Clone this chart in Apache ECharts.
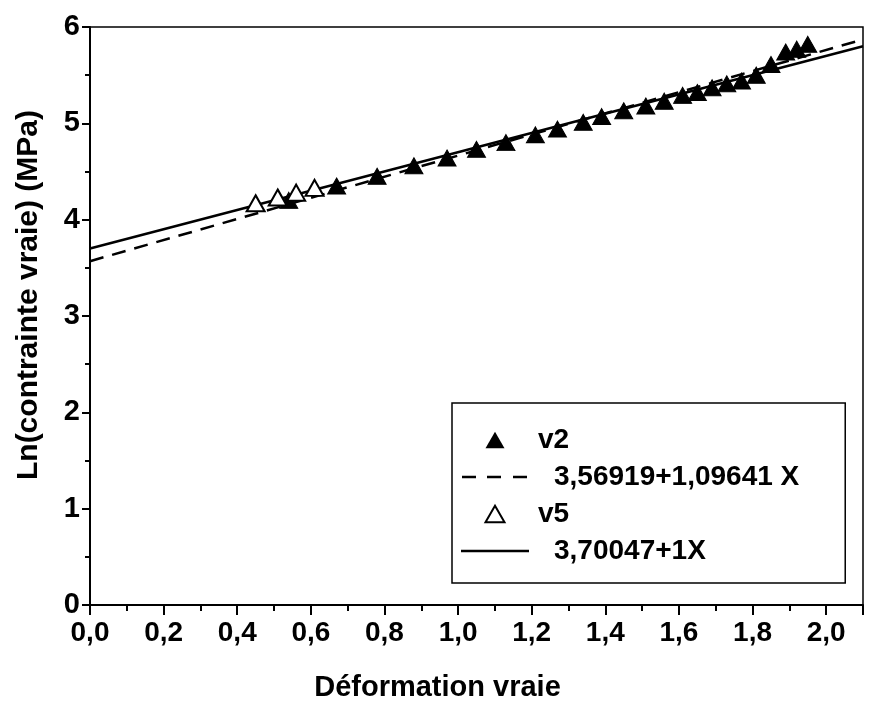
<!DOCTYPE html>
<html>
<head>
<meta charset="utf-8">
<script src="https://cdn.jsdelivr.net/npm/echarts@6/dist/echarts.min.js"></script>
<style>html,body{margin:0;padding:0;background:#fff}#c{width:869px;height:721px}</style>
</head>
<body>
<div id="c"></div>
<script>
// Data
var v2X = [0.54, 0.67, 0.78, 0.88, 0.97, 1.05, 1.13, 1.21, 1.27, 1.34, 1.39, 1.45, 1.51, 1.56, 1.61, 1.65, 1.69, 1.73, 1.77, 1.81, 1.85, 1.89, 1.92, 1.95];
var v2Y = [4.20, 4.35, 4.45, 4.56, 4.64, 4.73, 4.80, 4.88, 4.94, 5.01, 5.07, 5.13, 5.18, 5.23, 5.29, 5.32, 5.37, 5.41, 5.44, 5.50, 5.61, 5.74, 5.77, 5.82];
var v5X = [0.45, 0.51, 0.56, 0.61];
var v5Y = [4.17, 4.23, 4.28, 4.33];
// Regression lines (end points)
var fit2X = [0, 2.1];
var fit2Y = [3.569, 5.871];
var fit5X = [0, 2.1];
var fit5Y = [3.700, 5.800];
var seriesNames = ['v2', '3,56919+1,09641 X', 'v5', '3,70047+1X'];
var xTitle = 'Déformation vraie';
var yTitle = 'Ln(contrainte vraie) (MPa)';

function zip(a, b) { return a.map(function (v, i) { return [v, b[i]]; }); }

var sans = "'Liberation Sans', Arial, sans-serif";

// legend icon shapes (68 x 18 box, corners fixed so the shapes are not stretched)
var box = 'M0 0 L0 0 M68 18 L68 18 ';
var triIcon = 'path://' + box + 'M24.5 17.2 L43.5 17.2 L34 0.8 Z';
var dashIcon = 'path://' + box + 'M1 7.7 L15 7.7 L15 10.3 L1 10.3 Z M26 7.7 L40 7.7 L40 10.3 L26 10.3 Z M52 7.7 L66 7.7 L66 10.3 L52 10.3 Z';
var lineIcon = 'path://' + box + 'M0 7.7 L68 7.7 L68 10.3 L0 10.3 Z';

var chart = echarts.init(document.getElementById('c'), null, { renderer: 'canvas' });
chart.setOption({
  animation: false,
  backgroundColor: '#fff',
  grid: { left: 90, right: 6, top: 27, bottom: 116, show: true, borderColor: '#000', borderWidth: 1.5 },
  xAxis: {
    type: 'value', min: 0, max: 2.1, interval: 0.2,
    name: xTitle, nameLocation: 'middle', nameGap: 68,
    nameTextStyle: { fontFamily: sans, fontWeight: 'bold', fontSize: 29, color: '#000', padding: [0, 78, 0, 0] },
    axisLine: { lineStyle: { color: '#000', width: 2 } },
    axisTick: { show: true, inside: false, length: 10, lineStyle: { color: '#000', width: 2 } },
    minorTick: { show: true, splitNumber: 2, length: 6, lineStyle: { color: '#000', width: 2 } },
    splitLine: { show: false },
    axisLabel: {
      margin: 14, color: '#000', fontFamily: sans, fontWeight: 'bold', fontSize: 28,
      formatter: function (v) { return v > 2.05 ? '' : v.toFixed(1).replace('.', ','); }
    }
  },
  yAxis: {
    type: 'value', min: 0, max: 6, interval: 1,
    name: yTitle, nameLocation: 'middle', nameGap: 46,
    nameTextStyle: { fontFamily: sans, fontWeight: 'bold', fontSize: 30, color: '#000', padding: [0, 0, 0, 42] },
    axisLine: { show: true, lineStyle: { color: '#000', width: 2 } },
    axisTick: { show: true, inside: false, length: 8, lineStyle: { color: '#000', width: 2 } },
    minorTick: { show: true, splitNumber: 2, length: 5, lineStyle: { color: '#000', width: 2 } },
    splitLine: { show: false },
    axisLabel: { margin: 10, color: '#000', fontFamily: sans, fontWeight: 'bold', fontSize: 29 }
  },
  legend: {
    orient: 'vertical', left: 452, top: 403,
    padding: [22, 46, 17, 8],
    borderColor: '#000', borderWidth: 1.5, backgroundColor: '#fff',
    itemWidth: 68, itemHeight: 18, itemGap: 7,
    data: [
      { name: seriesNames[0], icon: triIcon, itemStyle: { color: '#000', borderWidth: 0, opacity: 1 } },
      { name: seriesNames[1], icon: dashIcon, itemStyle: { color: '#000', borderWidth: 0, opacity: 1 } },
      { name: seriesNames[2], icon: triIcon, itemStyle: { color: '#fff', borderColor: '#000', borderWidth: 2, opacity: 1 } },
      { name: seriesNames[3], icon: lineIcon, itemStyle: { color: '#000', borderWidth: 0, opacity: 1 } }
    ],
    formatter: function (n) { return n.charAt(0) === 'v' ? '{a|' + n + '}' : '{b|' + n + '}'; },
    textStyle: {
      color: '#000', fontFamily: sans, fontWeight: 'bold', fontSize: 28, lineHeight: 30,
      rich: {
        a: { fontFamily: sans, fontWeight: 'bold', fontSize: 28, lineHeight: 30, padding: [0, 0, 0, 4] },
        b: { fontFamily: sans, fontWeight: 'bold', fontSize: 28, lineHeight: 30, padding: [0, 0, 0, 20] }
      }
    }
  },
  series: [
    {
      name: seriesNames[0], type: 'scatter', symbol: 'triangle', symbolSize: [18, 16], z: 5,
      itemStyle: { color: '#000', borderColor: '#000', borderWidth: 1, opacity: 1 },
      data: zip(v2X, v2Y)
    },
    {
      name: seriesNames[1], type: 'line', showSymbol: false, symbol: 'none', z: 3,
      lineStyle: { color: '#000', width: 2.5, type: [14, 9] },
      itemStyle: { color: '#000' },
      data: zip(fit2X, fit2Y)
    },
    {
      name: seriesNames[2], type: 'scatter', symbol: 'triangle', symbolSize: [18, 16], z: 6,
      itemStyle: { color: '#fff', borderColor: '#000', borderWidth: 2, opacity: 1 },
      data: zip(v5X, v5Y)
    },
    {
      name: seriesNames[3], type: 'line', showSymbol: false, symbol: 'none', z: 4,
      lineStyle: { color: '#000', width: 2.5, type: 'solid' },
      itemStyle: { color: '#000' },
      data: zip(fit5X, fit5Y)
    }
  ]
});
</script>
</body>
</html>
